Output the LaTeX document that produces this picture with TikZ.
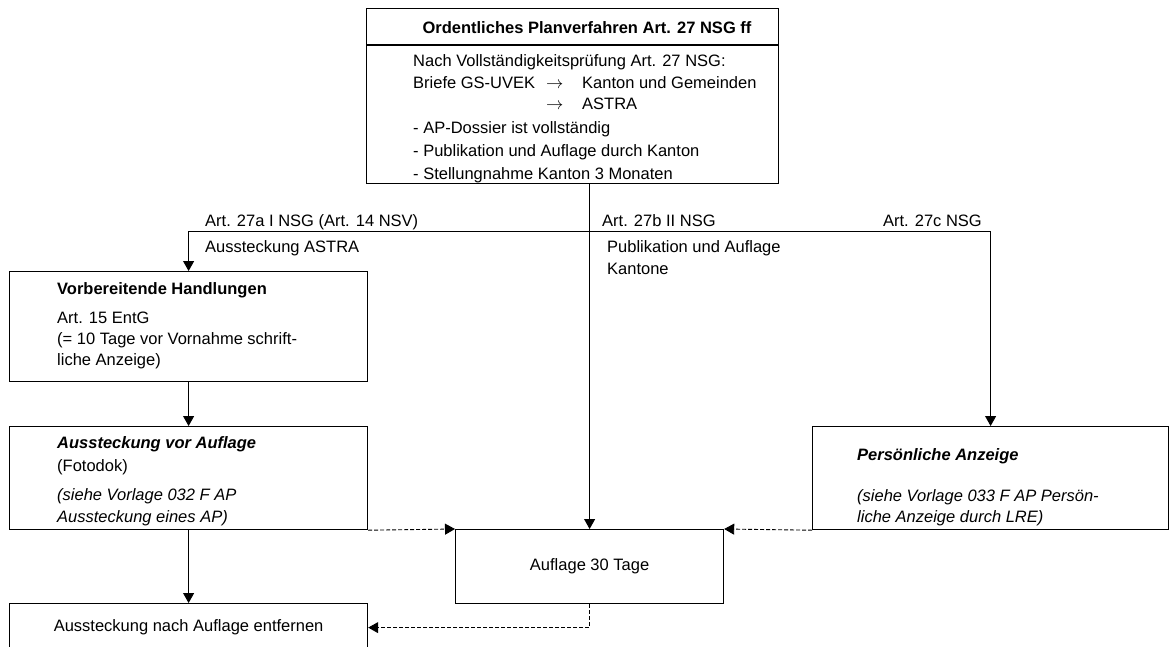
\documentclass[tikz,border=0pt]{standalone}
\usepackage{fontspec}
\setmainfont{Liberation Sans}
\usetikzlibrary{arrows.meta}
\begin{document}
\begin{tikzpicture}[x=1pt,y=-1pt,
  font=\fontsize{16.5}{20}\selectfont,
  box/.style={draw, line width=1.2pt, inner sep=0pt, anchor=north west},
  txt/.style={anchor=base west, inner sep=0pt},
  conn/.style={line width=0.9pt, -{Triangle[length=10pt,width=11pt]}},
  dconn/.style={conn, dash pattern=on 4pt off 2pt}]
\useasboundingbox (0,0) rectangle (1175,646);
\clip (0,0) rectangle (1175,646);

% boxes
\node[box, minimum width=412pt, minimum height=175pt] (top) at (366,8) {};
\coordinate (dl) at (366,45);
\coordinate (dr) at (778,45);
\draw[line width=1.2pt] (dl) -- (dr);
\node[box, minimum width=358pt, minimum height=110pt] (vb) at (9,271) {};
\node[box, minimum width=358pt, minimum height=103pt] (aus) at (9,426) {};
\node[box, minimum width=358pt, minimum height=48pt] (bot) at (9,603) {Aussteckung nach Auflage entfernen};
\node[box, minimum width=268pt, minimum height=74pt] (auf) at (455,529) {Auflage 30 Tage};
\node[box, minimum width=356pt, minimum height=103pt] (pa) at (812,426) {};

% top box text
\node[anchor=base, inner sep=0pt] (title) at (587,33) {\bfseries Ordentliches Planverfahren Art. 27 NSG ff};
\node[txt] (t1) at (413,66) {Nach Vollständigkeitsprüfung Art. 27 NSG:};
\node[txt] (t2) at (413,88) {Briefe GS-UVEK};
\node[txt] (t2a) at (546,88) {$\rightarrow$};
\node[txt] (t2b) at (582,88) {Kanton und Gemeinden};
\node[txt] (t3a) at (546,109) {$\rightarrow$};
\node[txt] (t3b) at (582,109) {ASTRA};
\node[txt] (t4) at (413,133) {- AP-Dossier ist vollständig};
\node[txt] (t5) at (413,156) {- Publikation und Auflage durch Kanton};
\node[txt] (t6) at (413,179) {- Stellungnahme Kanton 3 Monaten};

% branch labels
\node[txt] (l1) at (205,226) {Art. 27a I NSG (Art. 14 NSV)};
\node[txt] (l2) at (205,252) {Aussteckung ASTRA};
\node[txt] (l3) at (602,226) {Art. 27b II NSG};
\node[txt] (l4) at (607,252) {Publikation und Auflage};
\node[txt] (l5) at (607,274) {Kantone};
\node[anchor=base east, inner sep=0pt] (l6) at (982,226) {Art. 27c NSG};

% Vorbereitende Handlungen
\node[txt] (v1) at (57,294) {\bfseries Vorbereitende Handlungen};
\node[txt] (v2) at (57,323) {Art. 15 EntG};
\node[txt] (v3) at (57,344) {(= 10 Tage vor Vornahme schrift-};
\node[txt] (v4) at (57,365) {liche Anzeige)};

% Aussteckung vor Auflage
\node[txt] (a1) at (57,448) {\bfseries\itshape Aussteckung vor Auflage};
\node[txt] (a2) at (57,471) {(Fotodok)};
\node[txt] (a3) at (57,500) {\itshape (siehe Vorlage 032 F AP};
\node[txt] (a4) at (57,522) {\itshape Aussteckung eines AP)};

% Persoenliche Anzeige
\node[txt] (p1) at (857,460) {\bfseries\itshape Persönliche Anzeige};
\node[txt] (p2) at (857,501) {\itshape (siehe Vorlage 033 F AP Persön-};
\node[txt] (p3) at (857,522) {\itshape liche Anzeige durch LRE)};

% connectors
\coordinate (split) at (589,231);
\draw[conn] (auf.north |- top.south) -- (auf.north);
\draw[conn] (split) -| (vb.north);
\draw[conn] (split) -| (pa.north);
\draw[conn] (vb.south) -- (aus.north);
\draw[conn] (aus.south) -- (bot.north);
\draw[dconn] (aus.south east) -- (auf.north west);
\draw[dconn] (pa.south west) -- (auf.north east);
\draw[dconn] (auf.south) |- (bot.east);
\end{tikzpicture}
\end{document}
